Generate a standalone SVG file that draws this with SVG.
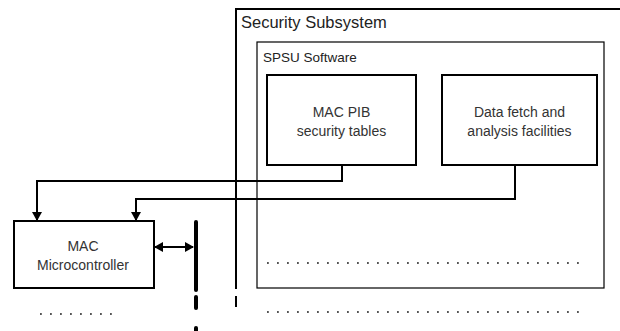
<svg xmlns="http://www.w3.org/2000/svg" width="620" height="331" viewBox="0 0 620 331">
<style>
.box{fill:#fff;stroke:#000;stroke-width:2}
.t{font-family:"Liberation Sans",Arial,sans-serif;font-size:14px;fill:#333;text-anchor:middle}
.lbl{font-family:"Liberation Sans",Arial,sans-serif;fill:#222}
.conn{fill:none;stroke:#000;stroke-width:2}
.dots{stroke:#555;stroke-width:1.8;stroke-dasharray:1.8 8.2}
</style>
<defs>
<marker id="ah" markerWidth="10" markerHeight="10" refX="8" refY="5" orient="auto-start-reverse" markerUnits="userSpaceOnUse">
<path d="M0,0 L9,5 L0,10 Z" fill="#000"/>
</marker>
</defs>
<rect width="620" height="331" fill="#fff"/>
<g id="security-subsystem">
<path d="M236,289 V9 H620" fill="none" stroke="#000" stroke-width="2"/>
<path d="M236,296 V307" stroke="#000" stroke-width="2"/>
<text class="lbl" x="241" y="28" font-size="16.5">Security Subsystem</text>
</g>
<g id="spsu-software">
<rect x="257" y="42" width="347" height="246" fill="none" stroke="#000" stroke-width="1.2"/>
<text class="lbl" x="263" y="62" font-size="13.5">SPSU Software</text>
<line class="dots" x1="267" y1="263" x2="580" y2="263"/>
</g>
<g id="mac-pib">
<rect class="box" x="267" y="75" width="149" height="90"/>
<text class="t" x="341.5" y="117">MAC PIB</text>
<text class="t" x="341.5" y="136">security tables</text>
</g>
<g id="data-fetch">
<rect class="box" x="442" y="75" width="155" height="90"/>
<text class="t" x="519.5" y="117">Data fetch and</text>
<text class="t" x="519.5" y="136">analysis facilities</text>
</g>
<g id="mac-microcontroller">
<rect class="box" x="14" y="221" width="140" height="67"/>
<text class="t" x="83" y="251">MAC</text>
<text class="t" x="83" y="270">Microcontroller</text>
</g>
<g id="bus">
<line x1="196" y1="222" x2="196" y2="290" stroke="#000" stroke-width="4" stroke-linecap="round"/>
<line x1="196" y1="297" x2="196" y2="308" stroke="#000" stroke-width="4" stroke-linecap="round"/>
<line x1="196" y1="328" x2="196" y2="335" stroke="#000" stroke-width="4" stroke-linecap="round"/>
</g>
<g id="other">
<line class="dots" x1="40" y1="314" x2="118" y2="314"/>
<line class="dots" x1="267" y1="312" x2="580" y2="312"/>
</g>
<g id="connectors">
<path class="conn" d="M342,165 V181 H37 V220" marker-end="url(#ah)"/>
<path class="conn" d="M515,165 V199 H136 V220" marker-end="url(#ah)"/>
<line class="conn" x1="155" y1="247" x2="193" y2="247" marker-start="url(#ah)" marker-end="url(#ah)"/>
</g>
</svg>
